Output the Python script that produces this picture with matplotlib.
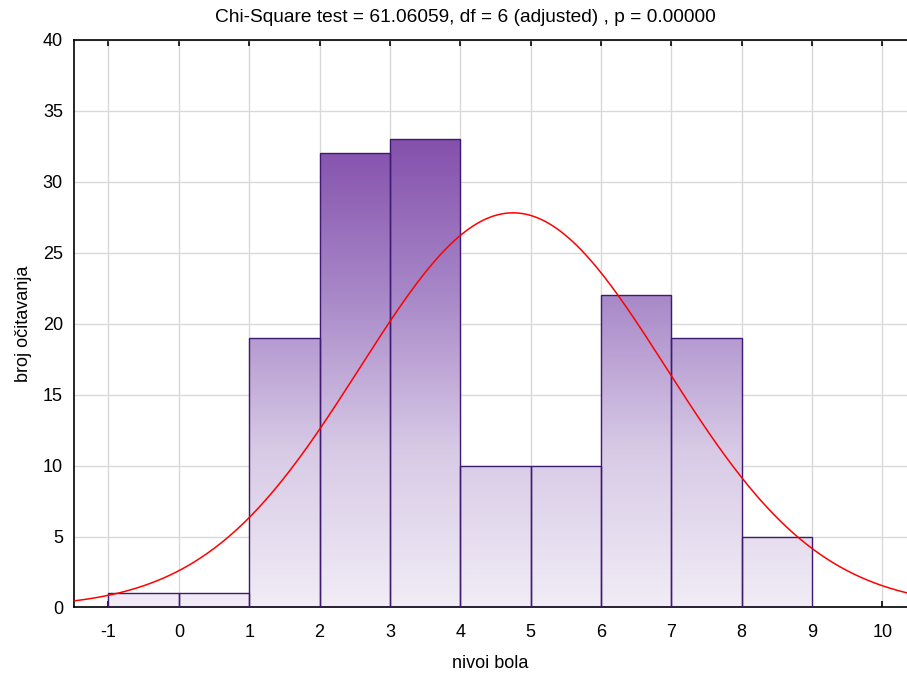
import numpy as np
import matplotlib
matplotlib.use("Agg")
import matplotlib.pyplot as plt
from matplotlib.colors import LinearSegmentedColormap

plt.rcParams['font.family'] = ['Liberation Sans', 'DejaVu Sans']
plt.rcParams['axes.unicode_minus'] = False

# histogram of pain levels
bin_edges = [-1, 0, 1, 2, 3, 4, 5, 6, 7, 8, 9]
counts = [1, 1, 19, 32, 33, 10, 10, 22, 19, 5]
# fitted normal curve parameters
fit_mean = 4.75
fit_sd = 2.18

xticks = list(range(-1, 11))
yticks = [0, 5, 10, 15, 20, 25, 30, 35, 40]
title = "Chi-Square test = 61.06059, df = 6 (adjusted) , p = 0.00000"

fig = plt.figure(figsize=(9.07, 6.81), dpi=100)
ax = fig.add_axes([0.0816, 0.108, 0.9184, 0.8333])

cmap = LinearSegmentedColormap.from_list("purp", ["#f1ecf6", "#d8cae6", "#a888c8", "#8450ac"])
top = max(counts)
for i, c in enumerate(counts):
    x0, x1 = bin_edges[i], bin_edges[i + 1]
    grad = np.linspace(0, c, 200).reshape(-1, 1)
    im = ax.imshow(grad, cmap=cmap, vmin=0, vmax=top, origin="lower",
                   extent=(x0, x1, 0, c), aspect="auto", zorder=2,
                   interpolation="bilinear")
    rect = ax.bar(x0, c, width=x1 - x0, align="edge", facecolor="none",
                  edgecolor="#3f1a72", linewidth=1.0, zorder=3)[0]
    im.set_clip_path(rect)

n = sum(counts)
xs = np.linspace(-1.5, 10.4, 400)
ys = n * 1.0 / (fit_sd * np.sqrt(2 * np.pi)) * np.exp(-(xs - fit_mean) ** 2 / (2 * fit_sd ** 2))
ax.plot(xs, ys, color="red", linewidth=1.1, zorder=4)

ax.set_xlim(-1.49, 10.35)
ax.set_ylim(0, 40)
ax.set_xticks(xticks)
ax.set_yticks(yticks)
ax.grid(True, color="#d9d9d9", linewidth=1.0, zorder=0)
ax.set_axisbelow(True)
ax.tick_params(axis="x", direction="in", top=True, length=4, width=1.2,
               labelsize=13, pad=12)
ax.tick_params(axis="y", direction="in", length=0, labelsize=13, pad=8)
for s in ["left", "bottom", "top"]:
    ax.spines[s].set_linewidth(1.2)
ax.spines["right"].set_visible(False)

fig.text(465 / 907, 1 - 17 / 681, title, fontsize=13.8, ha="center", va="center")
ax.set_xlabel("nivoi bola", fontsize=13, labelpad=10)
ax.set_ylabel("broj očitavanja", fontsize=13, labelpad=8)

fig.savefig("out.png", dpi=100)
